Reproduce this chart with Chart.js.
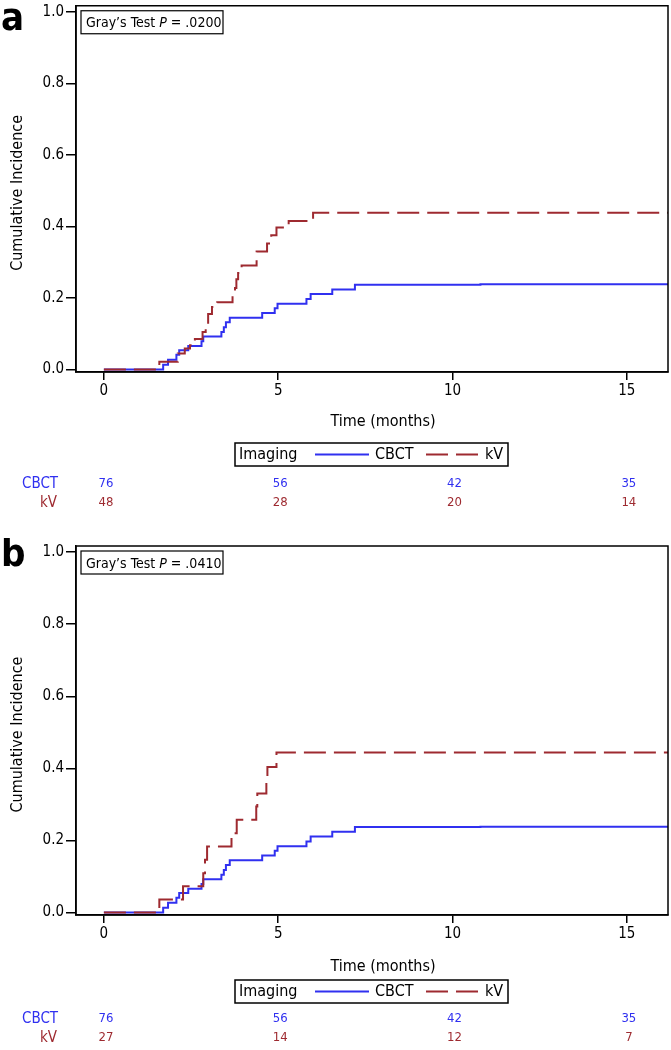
<!DOCTYPE html>
<html>
<head>
<meta charset="utf-8">
<script src="https://cdn.jsdelivr.net/npm/chart.js@4.4.1/dist/chart.umd.min.js"></script>
<style>
  html, body { margin: 0; padding: 0; background: #fff; }
  #wrap { width: 671px; height: 1050px; position: relative; }
  canvas { position: absolute; left: 0; }
  #chartA { top: 0; }
  #chartB { top: 525px; }
</style>
</head>
<body>
<div id="wrap">
  <canvas id="chartA" width="671" height="525"></canvas>
  <canvas id="chartB" width="671" height="525"></canvas>
</div>
<script>
// ----- axis ticks -----
const xTicks = [0, 5, 10, 15];
const yTicks = [0, 0.2, 0.4, 0.6, 0.8, 1.0];

// ----- cumulative incidence, cbct (same group in both panels) -----
const cbctTime = [0, 1.70, 1.84, 2.08, 2.16, 2.42, 2.80, 2.85, 3.37, 3.44, 3.50, 3.61, 4.54, 4.90, 4.98, 5.81, 5.93, 6.55, 7.20, 10.8, 16.2];
const cbctInc  = [0, 0.013, 0.027, 0.041, 0.054, 0.066, 0.079, 0.092, 0.105, 0.118, 0.132, 0.145, 0.158, 0.171, 0.184, 0.197, 0.211, 0.224, 0.237, 0.238, 0.238];

// ----- kv, panel a -----
const kvTimeA = [0, 1.59, 2.12, 2.32, 2.47, 2.61, 2.83, 2.92, 2.99, 3.10, 3.25, 3.69, 3.76, 3.80, 3.85, 3.95, 4.38, 4.68, 4.80, 4.95, 5.30, 6.00, 16.2];
const kvIncA  = [0, 0.022, 0.045, 0.059, 0.068, 0.085, 0.105, 0.125, 0.155, 0.175, 0.188, 0.208, 0.228, 0.252, 0.270, 0.291, 0.330, 0.352, 0.375, 0.397, 0.415, 0.438, 0.438];

// ----- kv, panel b -----
const kvTimeB = [0, 1.59, 2.27, 2.85, 2.90, 2.96, 3.66, 3.81, 4.37, 4.40, 4.66, 4.69, 4.95, 16.2];
const kvIncB  = [0, 0.036, 0.073, 0.109, 0.146, 0.183, 0.220, 0.257, 0.294, 0.330, 0.367, 0.404, 0.444, 0.444];

// ----- numbers at risk -----
const riskTimes  = [0, 5, 10, 15];
const cbctRiskA  = [76, 56, 42, 35];
const kvRiskA    = [48, 28, 20, 14];
const cbctRiskB  = [76, 56, 42, 35];
const kvRiskB    = [27, 14, 12, 7];

const X_MIN = -0.8, X_MAX = 16.18;
const Y_MIN = -0.007, Y_MAX = 1.017;

const FONT = '"DejaVu Sans Condensed", "Liberation Sans Narrow", "DejaVu Sans", sans-serif';
const BLUE = '#3030f0';
const RED = '#9e2a30';

const toPoints = (times, inc) => times.map((t, i) => ({ x: t, y: inc[i] }));

// frame, stats box, titles, legend and risk table
const panelDecor = {
  id: 'panelDecor',
  afterDraw(chart, args, o) {
    const { ctx, chartArea: a } = chart;
    const xs = chart.scales.x;
    const ds = chart.data.datasets;
    ctx.save();

    ctx.strokeStyle = '#000';
    ctx.lineWidth = 1.5;
    ctx.strokeRect(a.left, a.top, a.right - a.left, a.bottom - a.top);

    // panel letter
    ctx.fillStyle = '#000';
    ctx.textAlign = 'left';
    ctx.textBaseline = 'alphabetic';
    ctx.font = 'bold 38px ' + FONT;
    ctx.fillText(o.letter, 1, o.letterY);

    // gray's test box
    const bx = a.left + 5, by = a.top + 5;
    ctx.lineWidth = 1.2;
    ctx.strokeRect(bx, by, 142, 23);
    let tx = bx + 5;
    const ty = by + 16.5;
    ctx.font = '14px ' + FONT;
    ctx.fillText('Gray\u2019s Test ', tx, ty);
    tx += ctx.measureText('Gray\u2019s Test ').width;
    ctx.font = 'italic 14px ' + FONT;
    ctx.fillText('P', tx, ty);
    tx += ctx.measureText('P').width;
    ctx.font = '14px ' + FONT;
    ctx.fillText(' = ' + o.pValue, tx, ty);

    // y title
    ctx.save();
    ctx.translate(18, (a.top + a.bottom) / 2 + 4);
    ctx.rotate(-Math.PI / 2);
    ctx.textAlign = 'center';
    ctx.textBaseline = 'middle';
    ctx.font = '16px ' + FONT;
    ctx.fillText('Cumulative Incidence', 0, 0);
    ctx.restore();

    // x title
    ctx.textAlign = 'center';
    ctx.textBaseline = 'middle';
    ctx.font = '16px ' + FONT;
    ctx.fillText('Time (months)', 383, a.bottom + o.titleDy);

    // legend
    const lx = 235, ly = a.bottom + o.legendDy, lw = 273, lh = 23, lm = ly + lh / 2;
    ctx.lineWidth = 1.5;
    ctx.strokeStyle = '#000';
    ctx.strokeRect(lx, ly, lw, lh);
    ctx.textAlign = 'left';
    ctx.font = '16px ' + FONT;
    ctx.fillText('Imaging', lx + 4, lm);
    ctx.strokeStyle = ds[0].borderColor;
    ctx.lineWidth = ds[0].borderWidth;
    ctx.beginPath(); ctx.moveTo(315, lm); ctx.lineTo(369, lm); ctx.stroke();
    ctx.fillText('CBCT', 375, lm);
    ctx.strokeStyle = ds[1].borderColor;
    ctx.lineWidth = ds[1].borderWidth;
    ctx.setLineDash(ds[1].borderDash);
    ctx.beginPath(); ctx.moveTo(426, lm); ctx.lineTo(478, lm); ctx.stroke();
    ctx.setLineDash([]);
    ctx.fillText('kV', 485, lm);

    // numbers at risk
    const r1 = a.bottom + o.riskDy, r2 = r1 + 19;
    ctx.font = '15px ' + FONT;
    ctx.fillStyle = BLUE;
    ctx.textAlign = 'left';
    ctx.fillText('CBCT', 22, r1);
    ctx.fillStyle = RED;
    ctx.textAlign = 'right';
    ctx.fillText('kV', 57, r2);
    ctx.font = '13px ' + FONT;
    ctx.textAlign = 'center';
    riskTimes.forEach((t, i) => {
      const px = xs.getPixelForValue(t) + 2;
      ctx.fillStyle = BLUE;
      ctx.fillText(String(o.cbctRisk[i]), px, r1);
      ctx.fillStyle = RED;
      ctx.fillText(String(o.kvRisk[i]), px, r2);
    });
    ctx.restore();
  }
};

function buildChart(id, kvTime, kvInc, decor) {
  const ctx = document.getElementById(id).getContext('2d');
  return new Chart(ctx, {
    type: 'line',
    data: {
      datasets: [
        {
          label: 'CBCT',
          data: toPoints(cbctTime, cbctInc),
          borderColor: BLUE,
          borderWidth: 2,
          stepped: 'before',
          pointRadius: 0,
          order: 2
        },
        {
          label: 'kV',
          data: toPoints(kvTime, kvInc),
          borderColor: RED,
          borderWidth: 2,
          borderDash: [22, 8],
          stepped: 'before',
          pointRadius: 0,
          order: 1
        }
      ]
    },
    options: {
      responsive: false,
      animation: false,
      events: [],
      layout: { padding: { top: decor.top, right: 3, bottom: decor.bottom, left: 0 } },
      scales: {
        x: {
          type: 'linear',
          min: X_MIN,
          max: X_MAX,
          afterBuildTicks: s => { s.ticks = xTicks.map(v => ({ value: v })); },
          afterFit: s => { s.height = 40; },
          grid: { drawOnChartArea: false, drawTicks: true, tickLength: 8, color: '#000', lineWidth: 1.5 },
          border: { display: true, color: '#000', width: 1.5 },
          ticks: {
            color: '#000',
            font: { family: FONT, size: 15 },
            padding: 2,
            maxRotation: 0,
            autoSkip: false,
            callback: v => String(v)
          }
        },
        y: {
          type: 'linear',
          min: Y_MIN,
          max: Y_MAX,
          afterBuildTicks: s => { s.ticks = yTicks.map(v => ({ value: v })); },
          afterFit: s => { s.width = 76; },
          grid: { drawOnChartArea: false, drawTicks: true, tickLength: 10, color: '#000', lineWidth: 1.5 },
          border: { display: true, color: '#000', width: 1.5 },
          ticks: {
            color: '#000',
            // small line height so the top label does not push the plot area down
            font: { family: FONT, size: 15, lineHeight: 0.5 },
            padding: 2,
            callback: v => v.toFixed(1)
          }
        }
      },
      plugins: {
        legend: { display: false },
        tooltip: { enabled: false },
        panelDecor: decor
      }
    },
    plugins: [panelDecor]
  });
}

document.addEventListener('DOMContentLoaded', () => {
  buildChart('chartA', kvTimeA, kvIncA, {
    top: 5, bottom: 113, letter: 'a', letterY: 30, pValue: '.0200',
    titleDy: 50, legendDy: 71, riskDy: 112,
    cbctRisk: cbctRiskA, kvRisk: kvRiskA
  });
  buildChart('chartB', kvTimeB, kvIncB, {
    top: 21, bottom: 95, letter: 'b', letterY: 41, pValue: '.0410',
    titleDy: 52, legendDy: 65, riskDy: 104,
    cbctRisk: cbctRiskB, kvRisk: kvRiskB
  });
});
</script>
</body>
</html>
